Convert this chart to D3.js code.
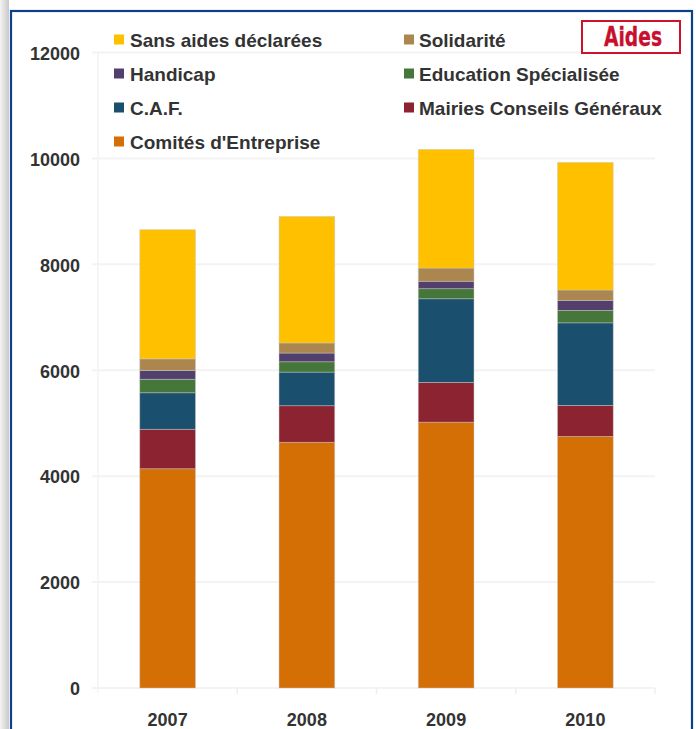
<!DOCTYPE html>
<html>
<head>
<meta charset="utf-8">
<script src="https://cdn.jsdelivr.net/npm/d3@7"></script>
<style>
  html, body { margin: 0; padding: 0; background: #fff; }
  svg { display: block; font-family: "Liberation Sans", Arial, sans-serif; }
</style>
</head>
<body>
<div id="chart"></div>
<script>
// data
const years = ["2007", "2008", "2009", "2010"];
const series = ["Comités d'Entreprise", "Mairies Conseils Généraux", "C.A.F.",
  "Education Spécialisée", "Handicap", "Solidarité", "Sans aides déclarées"];
const comites = [4140, 4640, 5020, 4750];
const mairies = [745, 690, 750, 585];
const caf = [690, 635, 1580, 1560];
const education = [255, 195, 190, 235];
const handicap = [165, 165, 140, 190];
const solidarite = [220, 190, 250, 195];
const sansAides = [2440, 2390, 2240, 2410];
const colors = ["#d46f06", "#8b2331", "#1b4f6e", "#45763a", "#533f6c", "#ab874f", "#ffc000"];
const yTicks = [0, 2000, 4000, 6000, 8000, 10000, 12000];
// legend order, row by row, two columns
const legendOrder = [6, 5, 4, 3, 2, 1, 0];

const W = 696, H = 729;
const margin = { top: 52.5, left: 98, right: 655, bottom: 688 };

const table = years.map((y, i) => ({
  year: y,
  [series[0]]: comites[i], [series[1]]: mairies[i], [series[2]]: caf[i],
  [series[3]]: education[i], [series[4]]: handicap[i], [series[5]]: solidarite[i],
  [series[6]]: sansAides[i]
}));

const svg = d3.select("#chart").append("svg")
  .attr("width", W).attr("height", H);

// page shadow on the left
const defs = svg.append("defs");
const grad = defs.append("linearGradient").attr("id", "shadow");
grad.append("stop").attr("offset", "0%").attr("stop-color", "#f4f4f4");
grad.append("stop").attr("offset", "100%").attr("stop-color", "#c8c8c8");
svg.append("rect").attr("x", 0).attr("y", 0).attr("width", 9).attr("height", H)
  .attr("fill", "url(#shadow)");

// blue frame
svg.append("rect").attr("x", 11).attr("y", 11).attr("width", 681).attr("height", H + 10)
  .attr("fill", "#fff").attr("stroke", "#0d3f8f").attr("stroke-width", 2.2);

const x = d3.scaleBand().domain(years).range([margin.left, margin.right]).paddingInner(0.6).paddingOuter(0.3);
const xb = d3.scaleBand().domain(years).range([margin.left, margin.right]);
const y = d3.scaleLinear().domain([0, 12000]).range([margin.bottom, margin.top]);

// grid
svg.append("g").selectAll("line").data(yTicks).join("line")
  .attr("x1", margin.left - 6).attr("x2", margin.right)
  .attr("y1", d => y(d)).attr("y2", d => y(d))
  .attr("stroke", "#f3f3f3").attr("stroke-width", 2);
svg.append("line").attr("x1", margin.left).attr("x2", margin.left)
  .attr("y1", margin.top).attr("y2", margin.bottom + 5)
  .attr("stroke", "#f3f3f3").attr("stroke-width", 1.5);
svg.append("g").selectAll("line").data(years.slice(1)).join("line")
  .attr("x1", d => xb(d)).attr("x2", d => xb(d))
  .attr("y1", margin.bottom).attr("y2", margin.bottom + 6)
  .attr("stroke", "#eeeeee").attr("stroke-width", 1.5);
svg.append("line").attr("x1", margin.right).attr("x2", margin.right)
  .attr("y1", margin.bottom).attr("y2", margin.bottom + 6)
  .attr("stroke", "#eeeeee").attr("stroke-width", 1.5);

// y labels
svg.append("g").selectAll("text").data(yTicks).join("text")
  .attr("x", 80).attr("y", d => y(d) + 2.5)
  .attr("text-anchor", "end").attr("dominant-baseline", "middle")
  .attr("font-size", 18).attr("font-weight", "bold").attr("fill", "#333")
  .text(d => d);

// x labels
svg.append("g").selectAll("text").data(years).join("text")
  .attr("x", d => x(d) + x.bandwidth() / 2).attr("y", 725.5)
  .attr("text-anchor", "middle")
  .attr("font-size", 18).attr("font-weight", "bold").attr("fill", "#333")
  .text(d => d);

// stacked bars
const stacked = d3.stack().keys(series)(table);
svg.append("g").selectAll("g").data(stacked).join("g")
  .attr("fill", (d, i) => colors[i])
  .selectAll("rect").data(d => d).join("rect")
  .attr("x", d => x(d.data.year))
  .attr("width", x.bandwidth())
  .attr("y", d => y(d[1]))
  .attr("height", d => y(d[0]) - y(d[1]))
  .attr("stroke", "rgba(200,200,200,0.55)").attr("stroke-width", 0.8);

// legend
const legend = svg.append("g").selectAll("g").data(legendOrder).join("g")
  .attr("transform", (d, i) => `translate(${i % 2 === 0 ? 114 : 404},${40 + Math.floor(i / 2) * 34})`);
legend.append("rect").attr("x", 0).attr("y", -5.5).attr("width", 10).attr("height", 10)
  .attr("fill", d => colors[d]);
legend.append("text").attr("x", (d, i) => i % 2 === 0 ? 16 : 15).attr("y", 0)
  .attr("dominant-baseline", "central")
  .attr("font-size", 19).attr("font-weight", "bold").attr("fill", "#333")
  .text(d => series[d]);

// "Aides" badge
svg.append("rect").attr("x", 582).attr("y", 21).attr("width", 98).attr("height", 32)
  .attr("fill", "#fff").attr("stroke", "#d0112b").attr("stroke-width", 2);
svg.append("text").attr("x", 604).attr("y", 46)
  .attr("font-family", "DejaVu Sans Condensed, DejaVu Sans, sans-serif")
  .attr("font-weight", "bold").attr("font-size", 27).attr("fill", "#c8102e")
  .attr("stroke", "#c8102e").attr("stroke-width", 0.3)
  .attr("textLength", 58).attr("lengthAdjust", "spacingAndGlyphs")
  .text("Aides");
</script>
</body>
</html>
